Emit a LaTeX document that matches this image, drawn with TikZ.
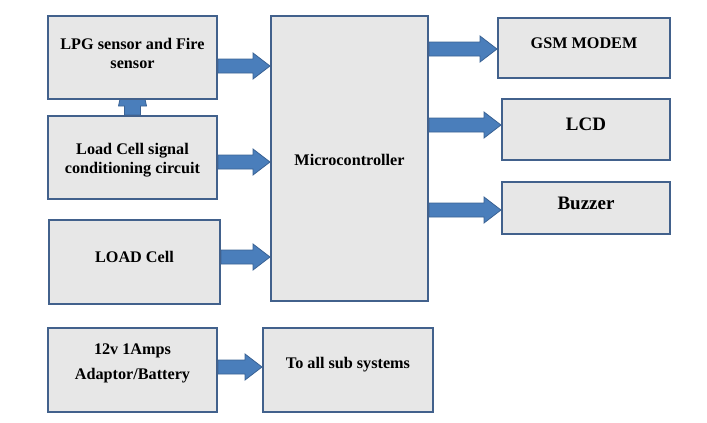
\documentclass[tikz,border=0pt]{standalone}
\usepackage{fontspec}
\setmainfont{Liberation Serif}
\usetikzlibrary{calc,backgrounds}
\definecolor{boxfill}{HTML}{E7E7E7}
\definecolor{boxline}{HTML}{42618C}
\definecolor{arrfill}{HTML}{4A7EBB}
\definecolor{arrline}{HTML}{3A6294}
\tikzset{
  blk/.style={draw=boxline, fill=boxfill, line width=2pt, inner sep=0pt},
  txt/.style={font=\bfseries\fontsize{16.2}{19}\selectfont, align=center, inner sep=0pt},
  bigtxt/.style={font=\bfseries\fontsize{19}{22}\selectfont, align=center, inner sep=0pt},
  barrow/.style={fill=arrfill, draw=arrline, line width=0.8pt, line join=miter}
}
% block arrow from point #1 to point #2 (horizontal, pointing right)
\newcommand\rblock[2]{%
  \path[barrow] let \p1=(#1), \p2=(#2) in
    (\x1,{\y1+7pt}) -- ({\x2-17pt},{\y1+7pt}) -- ({\x2-17pt},{\y1+13pt}) --
    (\x2,\y1) -- ({\x2-17pt},{\y1-13pt}) -- ({\x2-17pt},{\y1-7pt}) --
    (\x1,{\y1-7pt}) -- cycle;}
\begin{document}
\begin{tikzpicture}[x=1pt,y=-1pt]
\useasboundingbox (0,0) rectangle (707,423);
% boxes
\node[blk, minimum width=169pt, minimum height=83pt] (lpg) at (132.5,57.5) {};
\node[blk, minimum width=169pt, minimum height=83pt] (lcs) at (132.5,157.5) {};
\node[blk, minimum width=171pt, minimum height=84pt] (lc)  at (134.5,262) {};
\node[blk, minimum width=169pt, minimum height=84pt] (pw)  at (132.5,370) {};
\node[blk, minimum width=170pt, minimum height=84pt] (all) at (348,370) {};
\node[blk, minimum width=157pt, minimum height=285pt] (mc) at (349.5,158.5) {};
\node[blk, minimum width=172pt, minimum height=60pt] (gsm) at (584,48) {};
\node[blk, minimum width=168pt, minimum height=61pt] (lcd) at (586,129.5) {};
\node[blk, minimum width=168pt, minimum height=52pt] (buz) at (586,208) {};
% texts
\node[txt] (t1) at ([yshift=4pt]lpg.center) {LPG sensor and Fire\\sensor};
\node[txt] (t2) at ([yshift=-3pt]lcs.center) {Load Cell signal\\conditioning circuit};
\node[txt] (t3) at ([yshift=5pt]lc.center) {LOAD Cell};
\node[txt, align=center] (t4) at ([yshift=6.5pt]pw.center) {12v 1Amps\\[6pt]Adaptor/Battery};
\node[txt] (t5) at ([yshift=5pt]all.center) {To all sub systems};
\node[txt] (t6) at ([yshift=-1.5pt]mc.center) {Microcontroller};
\node[txt] (t7) at ([yshift=5pt]gsm.center) {GSM MODEM};
\node[bigtxt] (t8) at ([yshift=5pt]lcd.center) {LCD};
\node[bigtxt] (t9) at ([yshift=5pt]buz.center) {Buzzer};
% connectors
\coordinate (a1s) at (lpg.east |- 0,66);  \coordinate (a1e) at (mc.west |- 0,66);
\coordinate (a2s) at (lcs.east |- 0,162); \coordinate (a2e) at (mc.west |- 0,162);
\coordinate (a3s) at (lc.east |- 0,257);  \coordinate (a3e) at (mc.west |- 0,257);
\coordinate (a4s) at (pw.east |- 0,367);  \coordinate (a4e) at (all.west |- 0,367);
\coordinate (b1s) at (mc.east |- 0,49);   \coordinate (b1e) at (gsm.west |- 0,49);
\coordinate (b2s) at (mc.east |- 0,125);  \coordinate (b2e) at (lcd.west |- 0,125);
\coordinate (b3s) at (mc.east |- 0,210);  \coordinate (b3e) at (buz.west |- 0,210);
\begin{pgfonlayer}{background}
\rblock{a1s}{a1e}
\rblock{a2s}{a2e}
\rblock{a3s}{a3e}
\rblock{a4s}{a4e}
\rblock{b1s}{b1e}
\rblock{b2s}{b2e}
\rblock{b3s}{b3e}
% small up arrow from lcs to lpg (tip hidden behind lpg)
\path[barrow] let \p1=(lcs.north), \p2=(lpg.south) in
  ({\x1-8pt},\y1) -- ({\x1-8pt},{\y2-6pt}) -- ({\x1-14pt},{\y2-6pt}) --
  (\x1,{\y2+60pt}) -- ({\x1+14pt},{\y2-6pt}) -- ({\x1+8pt},{\y2-6pt}) --
  ({\x1+8pt},\y1) -- cycle;
\end{pgfonlayer}
\end{tikzpicture}
\end{document}
